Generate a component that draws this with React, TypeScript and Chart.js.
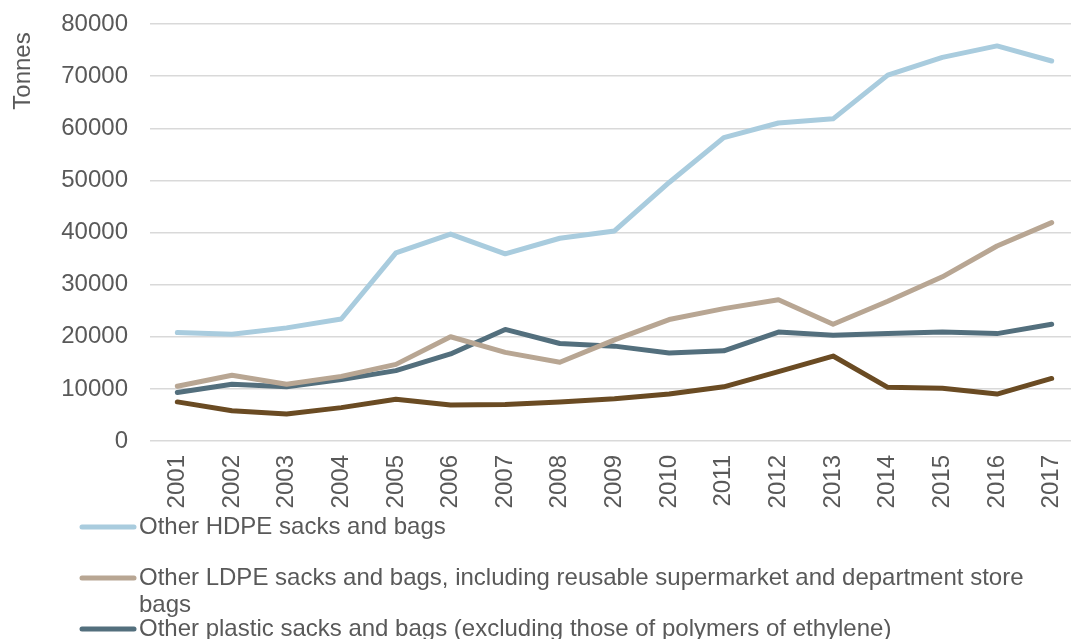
import React, { useEffect, useRef } from "react";
import { Chart, registerables } from "chart.js";

Chart.register(...registerables);

const years = ["2001","2002","2003","2004","2005","2006","2007","2008","2009","2010","2011","2012","2013","2014","2015","2016","2017"];
const hdpe = [20800, 20500, 21700, 23400, 36100, 39700, 35900, 38900, 40300, 49600, 58200, 61000, 61800, 70200, 73600, 75800, 72900];
const ldpe = [10500, 12600, 10900, 12400, 14700, 20000, 17000, 15100, 19400, 23300, 25400, 27100, 22400, 26800, 31500, 37400, 41900];
const otherPlastic = [9300, 10900, 10400, 11800, 13500, 16700, 21400, 18700, 18200, 16900, 17300, 20900, 20300, 20600, 20900, 20600, 22400];
const fourth = [7500, 5800, 5200, 6400, 8000, 6900, 7000, 7500, 8100, 9000, 10400, 13300, 16300, 10300, 10100, 9000, 12000];

const seriesNames = [
  "Other HDPE sacks and bags",
  "Other LDPE sacks and bags, including reusable supermarket and department store bags",
  "Other plastic sacks and bags (excluding those of polymers of ethylene)",
  "Other plastic bags",
];
const colors = ["#A9CCDE", "#B8A693", "#536F7D", "#6A4B23"];
const yTicks = [0, 10000, 20000, 30000, 40000, 50000, 60000, 70000, 80000];

const FONT = "Liberation Sans, Arial, sans-serif";
const TEXT = "#595959";
const SIZE = 24;

export default function App() {
  const ref = useRef<HTMLCanvasElement | null>(null);
  useEffect(() => {
    if (!ref.current) return;
    const overlay = {
      id: "overlay",
      afterDraw(chart: any) {
        const ctx = chart.ctx as CanvasRenderingContext2D;
        ctx.save();
        ctx.fillStyle = TEXT;
        ctx.font = `${SIZE}px ${FONT}`;
        // axis title
        ctx.save();
        ctx.translate(23, 71);
        ctx.rotate(-Math.PI / 2);
        ctx.textAlign = "center";
        ctx.textBaseline = "middle";
        ctx.fillText("Tonnes", 0, 0);
        ctx.restore();
        // legend
        const rowsY = [527, 578, 629, 680];
        const textX = 139;
        const maxW = 1064 - textX;
        ctx.textAlign = "left";
        ctx.textBaseline = "middle";
        seriesNames.forEach((name, i) => {
          const y = rowsY[i];
          ctx.strokeStyle = colors[i];
          ctx.lineWidth = 5;
          ctx.lineCap = "round";
          ctx.beginPath();
          ctx.moveTo(82, y);
          ctx.lineTo(134, y);
          ctx.stroke();
          const words = name.split(" ");
          const lines: string[] = [];
          let cur = "";
          for (const w of words) {
            const t = cur ? cur + " " + w : w;
            if (ctx.measureText(t).width > maxW && cur) {
              lines.push(cur);
              cur = w;
            } else cur = t;
          }
          lines.push(cur);
          lines.forEach((l, j) => ctx.fillText(l, textX, y + j * 27));
        });
        ctx.restore();
      },
    };
    const chart = new Chart(ref.current, {
      type: "line",
      data: {
        labels: years,
        datasets: [hdpe, ldpe, otherPlastic, fourth].map((d, i) => ({
          label: seriesNames[i],
          data: d,
          borderColor: colors[i],
          backgroundColor: colors[i],
          borderWidth: 5,
          pointRadius: 0,
          tension: 0,
          borderCapStyle: "round" as const,
          borderJoinStyle: "round" as const,
          order: i,
        })),
      },
      options: {
        animation: false,
        responsive: false,
        layout: { padding: { top: 24, right: 0, left: 0, bottom: 0 } },
        plugins: { legend: { display: false }, tooltip: { enabled: false } },
        scales: {
          x: {
            offset: true,
            grid: { display: false },
            border: { display: false },
            ticks: {
              color: TEXT,
              font: { family: FONT, size: SIZE },
              minRotation: 90,
              maxRotation: 90,
              padding: 6,
              autoSkip: false,
            },
            afterFit(scale: any) {
              scale.height = 198;
              scale.paddingLeft = 0;
              scale.paddingRight = 0;
            },
          },
          y: {
            min: 0,
            max: 80000,
            grid: { color: "#D9D9D9", lineWidth: 1.5, drawTicks: false },
            border: { display: false },
            afterBuildTicks(scale: any) {
              scale.ticks = yTicks.map((v) => ({ value: v }));
            },
            ticks: {
              color: TEXT,
              font: { family: FONT, size: SIZE },
              padding: 22,
              callback: (v: any) => String(v),
            },
            afterFit(scale: any) {
              scale.width = 150;
              scale.paddingTop = 0;
              scale.paddingBottom = 0;
            },
          },
        },
      },
      plugins: [overlay],
    });
    return () => chart.destroy();
  }, []);
  return (
    <div style={{ position: "fixed", left: 0, top: 0, width: 1071, height: 639, overflow: "hidden", background: "#fff" }}>
      <canvas ref={ref} width={1079} height={639} style={{ display: "block", width: 1079, height: 639 }} />
    </div>
  );
}
